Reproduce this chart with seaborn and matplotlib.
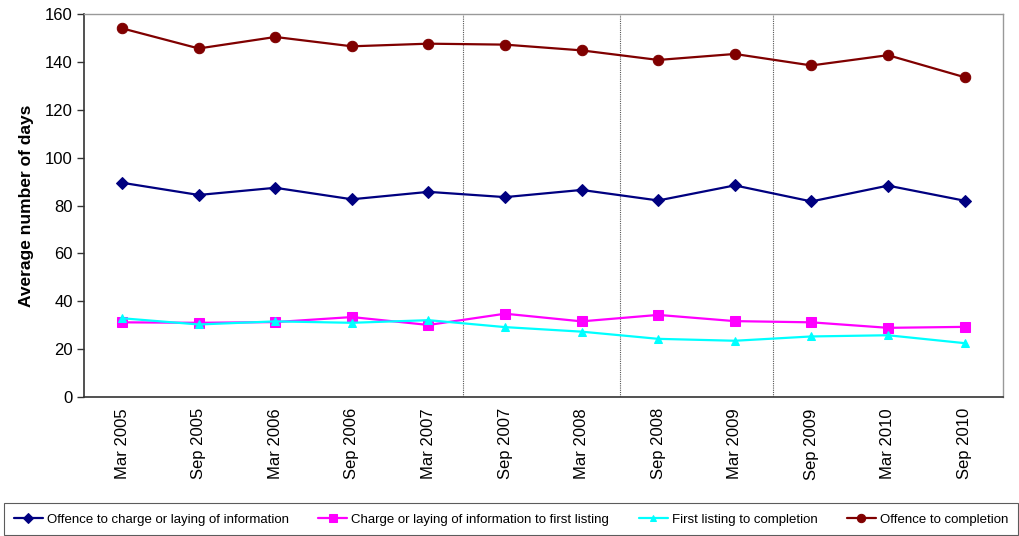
import matplotlib
matplotlib.use("Agg")
import matplotlib.pyplot as plt
import seaborn as sns
import pandas as pd
import numpy as np

# Survey periods
periods = ["Mar 2005", "Sep 2005", "Mar 2006", "Sep 2006", "Mar 2007", "Sep 2007",
           "Mar 2008", "Sep 2008", "Mar 2009", "Sep 2009", "Mar 2010", "Sep 2010"]

# Average number of days for each stage
offence_to_charge = [89.5, 84.4, 87.4, 82.6, 85.7, 83.5, 86.5, 82.1, 88.4, 81.7, 88.3, 82.0]
charge_to_listing = [31.2, 31.0, 31.3, 33.4, 30.1, 34.8, 31.6, 34.3, 31.7, 31.2, 28.9, 29.3]
listing_to_completion = [32.9, 30.3, 31.6, 31.0, 32.1, 29.2, 27.3, 24.3, 23.5, 25.3, 25.8, 22.5]
offence_to_completion = [154.0, 145.6, 150.4, 146.5, 147.6, 147.2, 144.8, 140.8, 143.3, 138.5, 142.8, 133.6]

series_names = ["Offence to charge or laying of information",
                "Charge or laying of information to first listing",
                "First listing to completion",
                "Offence to completion"]
series_values = [offence_to_charge, charge_to_listing, listing_to_completion, offence_to_completion]
series_colors = ["#000080", "#FF00FF", "#00FFFF", "#800000"]
series_markers = ["D", "s", "^", "o"]
series_msize = [6.5, 7.5, 6, 7.5]

# Break positions between periods (dotted separators)
breaks = [4.45, 6.5, 8.5]

sns.set_theme(style="white")
plt.rcParams["font.family"] = ["Liberation Sans", "DejaVu Sans"]
plt.rcParams["text.color"] = "black"
plt.rcParams["axes.labelcolor"] = "black"
plt.rcParams["xtick.color"] = "black"
plt.rcParams["ytick.color"] = "black"

fig = plt.figure(figsize=(10.2, 5.36), dpi=100)
ax = fig.add_axes([0.0822, 0.2593, 0.9010, 0.7146])

x = np.arange(len(periods))
for name, vals, col, mk, ms in zip(series_names, series_values, series_colors,
                                   series_markers, series_msize):
    df = pd.DataFrame({"x": x, "y": vals})
    sns.lineplot(data=df, x="x", y="y", ax=ax, color=col, marker=mk,
                 markersize=ms, markeredgecolor=col, linewidth=1.6, label=name)

for b in breaks:
    ax.axvline(b, color="#555555", linestyle=(0, (1, 1)), linewidth=0.8, zorder=0)

ax.set_xlim(-0.5, len(periods) - 0.5)
ax.set_ylim(0, 160)
ax.set_yticks(np.arange(0, 161, 20))
ax.set_xticks(x)
ax.set_xticklabels(periods, rotation=90, fontsize=12)
ax.tick_params(axis="y", labelsize=12, length=5, width=1, direction="out",
               left=True, color="#333333", pad=3, labelcolor="black")
ax.tick_params(axis="x", length=0, pad=8, labelcolor="black")
ax.set_xlabel("")
ax.set_ylabel("Average number of days", fontsize=12.5, fontweight="bold",
              labelpad=8, color="black")

for side in ["left", "bottom"]:
    ax.spines[side].set_color("#333333")
    ax.spines[side].set_linewidth(1.2)
for side in ["top", "right"]:
    ax.spines[side].set_color("#999999")
    ax.spines[side].set_linewidth(1.0)

handles, labels = ax.get_legend_handles_labels()
ax.get_legend().remove()
leg = fig.legend(handles, labels, loc="lower left", bbox_to_anchor=(0.004, 0.001, 0.994, 0.068),
                 mode="expand", ncol=4, fontsize=9.5, frameon=True, fancybox=False,
                 handlelength=2.2, handletextpad=0.3, columnspacing=1.5,
                 borderaxespad=0.0, markerscale=0.8, borderpad=0.75)
leg.get_frame().set_edgecolor("#333333")
leg.get_frame().set_linewidth(0.8)
for t in leg.get_texts():
    t.set_color("black")

fig.savefig("out.png", dpi=100)
